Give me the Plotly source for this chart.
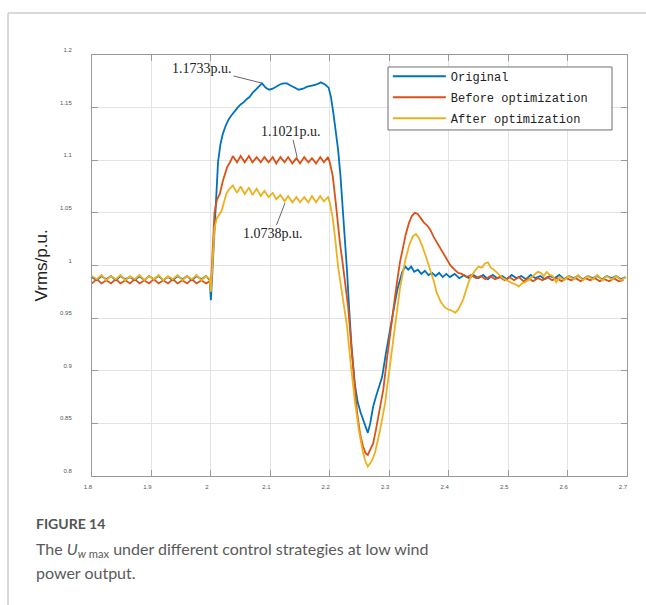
import plotly.graph_objects as go

# ---------------- data ----------------
T_PRE = [1.800, 1.808, 1.816, 1.824, 1.832, 1.840, 1.848, 1.856, 1.864, 1.872,
         1.880, 1.888, 1.896, 1.904, 1.912, 1.920, 1.928, 1.936, 1.944, 1.952,
         1.960, 1.968, 1.976, 1.984, 1.992, 1.998]

BLUE_PRE = [0.989, 0.986, 0.990, 0.987, 0.990, 0.986, 0.990, 0.987, 0.989, 0.986,
            0.990, 0.986, 0.990, 0.987, 0.990, 0.986, 0.989, 0.986, 0.990, 0.987,
            0.990, 0.986, 0.990, 0.987, 0.990, 0.986]
RED_PRE = [0.983, 0.987, 0.983, 0.986, 0.983, 0.987, 0.983, 0.986, 0.983, 0.987,
           0.983, 0.986, 0.983, 0.987, 0.983, 0.986, 0.983, 0.987, 0.983, 0.986,
           0.983, 0.987, 0.983, 0.986, 0.983, 0.985]
YELLOW_PRE = [0.990, 0.987, 0.991, 0.986, 0.990, 0.987, 0.991, 0.986, 0.990, 0.987,
              0.991, 0.986, 0.990, 0.987, 0.991, 0.986, 0.990, 0.987, 0.991, 0.986,
              0.990, 0.987, 0.991, 0.986, 0.990, 0.987]

# Original (blue)
BLUE_T = [2.000, 2.003, 2.006, 2.009, 2.012, 2.016, 2.020, 2.025, 2.030, 2.035,
          2.040, 2.045, 2.050, 2.055, 2.060, 2.065, 2.070, 2.075, 2.080, 2.086,
          2.092, 2.098, 2.104, 2.110, 2.116, 2.122, 2.128, 2.134, 2.140, 2.148,
          2.155, 2.162, 2.170, 2.178, 2.185, 2.192, 2.198, 2.202, 2.206, 2.210,
          2.214, 2.218, 2.221, 2.225, 2.229, 2.233, 2.237, 2.242, 2.247, 2.252,
          2.256, 2.260, 2.264, 2.268, 2.273, 2.278, 2.283, 2.288, 2.294, 2.301,
          2.308, 2.314, 2.318, 2.322, 2.327, 2.332, 2.337, 2.342, 2.348, 2.354,
          2.360, 2.366, 2.372, 2.378, 2.384, 2.390, 2.396, 2.402, 2.410, 2.418,
          2.426, 2.434, 2.442,
          2.450, 2.458, 2.466, 2.474, 2.482, 2.490, 2.498, 2.506, 2.514, 2.522,
          2.530, 2.538, 2.546, 2.554, 2.562, 2.570, 2.578, 2.586, 2.594, 2.602,
          2.610, 2.618, 2.626, 2.634, 2.642, 2.650, 2.658, 2.666, 2.674, 2.682,
          2.690, 2.698]
BLUE_V = [0.967, 1.000, 1.045, 1.075, 1.098, 1.115, 1.125, 1.133, 1.139, 1.143,
          1.147, 1.150, 1.153, 1.155, 1.158, 1.160, 1.164, 1.167, 1.170, 1.173,
          1.169, 1.167, 1.168, 1.170, 1.172, 1.173, 1.173, 1.171, 1.169, 1.167,
          1.168, 1.170, 1.171, 1.172, 1.174, 1.172, 1.169, 1.160, 1.145, 1.128,
          1.110, 1.085, 1.062, 1.030, 0.995, 0.955, 0.920, 0.888, 0.870, 0.860,
          0.853, 0.846, 0.841, 0.850, 0.866, 0.876, 0.884, 0.894, 0.915, 0.939,
          0.960, 0.978, 0.986, 0.994, 0.999, 0.996, 0.999, 0.994, 0.996, 0.992,
          0.995, 0.991, 0.993, 0.990, 0.993, 0.989, 0.992, 0.989, 0.992, 0.988,
          0.991, 0.988, 0.991,
          0.988, 0.991, 0.987, 0.991, 0.988, 0.990, 0.987, 0.991, 0.988, 0.990,
          0.987, 0.991, 0.988, 0.990, 0.987, 0.990, 0.988, 0.991, 0.987, 0.990,
          0.988, 0.990, 0.987, 0.990, 0.988, 0.990, 0.987, 0.990, 0.988, 0.990,
          0.987, 0.989]

# Before optimization (red)
RED_T = [2.000, 2.003, 2.006, 2.010, 2.015, 2.020, 2.027, 2.033, 2.037,
         2.044, 2.050, 2.057, 2.064, 2.070, 2.077, 2.084, 2.090, 2.097, 2.104,
         2.110, 2.117, 2.124, 2.130, 2.137, 2.144, 2.150, 2.157, 2.164, 2.170,
         2.177, 2.184, 2.190, 2.197,
         2.200, 2.205, 2.210, 2.214, 2.217, 2.221, 2.226, 2.231, 2.236, 2.241,
         2.246, 2.251, 2.256, 2.260, 2.264, 2.268, 2.273, 2.278, 2.283, 2.290,
         2.297, 2.305, 2.312, 2.318, 2.323, 2.328, 2.333, 2.338, 2.343, 2.348,
         2.353, 2.358, 2.364, 2.369, 2.375, 2.380, 2.385, 2.391, 2.397, 2.403,
         2.410, 2.416, 2.422,
         2.430, 2.438, 2.446, 2.454, 2.462, 2.470, 2.478, 2.486, 2.494, 2.502,
         2.510, 2.518, 2.526, 2.534, 2.542, 2.550, 2.558, 2.566, 2.574, 2.582,
         2.590, 2.598, 2.606, 2.614, 2.622, 2.630, 2.638, 2.646, 2.654, 2.662,
         2.670, 2.678, 2.686, 2.694]
RED_V = [0.980, 1.020, 1.050, 1.062, 1.068, 1.080, 1.093, 1.099, 1.104,
         1.098, 1.104, 1.098, 1.104, 1.098, 1.103, 1.098, 1.103, 1.098, 1.103,
         1.097, 1.103, 1.098, 1.103, 1.097, 1.102, 1.097, 1.103, 1.098, 1.102,
         1.097, 1.103, 1.098, 1.103,
         1.098, 1.085, 1.060, 1.035, 1.022, 1.005, 0.985, 0.960, 0.925, 0.890,
         0.860, 0.840, 0.828, 0.822, 0.820, 0.825, 0.831, 0.845, 0.860, 0.882,
         0.915, 0.951, 0.980, 1.003, 1.018, 1.030, 1.040, 1.047, 1.050, 1.049,
         1.045, 1.041, 1.038, 1.034, 1.027, 1.022, 1.018, 1.012, 1.005, 1.000,
         0.996, 0.993, 0.992,
         0.989, 0.991, 0.988, 0.990, 0.987, 0.990, 0.987, 0.989, 0.986, 0.989,
         0.986, 0.989, 0.985, 0.988, 0.985, 0.988, 0.986, 0.989, 0.986, 0.988,
         0.985, 0.988, 0.986, 0.988, 0.985, 0.988, 0.986, 0.988, 0.985, 0.987,
         0.985, 0.988, 0.985, 0.986]

# After optimization (yellow)
YELLOW_T = [2.000, 2.003, 2.006, 2.010, 2.014, 2.018, 2.022, 2.026, 2.030,
            2.037, 2.044, 2.050, 2.057, 2.064, 2.070, 2.077, 2.084, 2.090, 2.097,
            2.104, 2.110, 2.117, 2.124, 2.130, 2.137, 2.144, 2.150, 2.157, 2.164,
            2.170, 2.177, 2.184, 2.190, 2.197,
            2.200, 2.205, 2.209, 2.214, 2.219, 2.224, 2.229, 2.235, 2.242, 2.249,
            2.256, 2.260, 2.264, 2.268, 2.272, 2.276, 2.284, 2.293, 2.301, 2.310,
            2.318, 2.327, 2.334, 2.340, 2.345, 2.350, 2.356, 2.362, 2.369, 2.375,
            2.380, 2.387, 2.394, 2.400, 2.406, 2.411, 2.416, 2.420, 2.424, 2.430,
            2.436, 2.443, 2.450, 2.456, 2.461, 2.466, 2.471, 2.476, 2.482, 2.487,
            2.491, 2.497, 2.503, 2.508, 2.513, 2.518, 2.523, 2.528, 2.534, 2.540,
            2.545, 2.550, 2.555, 2.560, 2.565, 2.570, 2.575, 2.581, 2.587,
            2.594, 2.602, 2.610, 2.618, 2.626, 2.634, 2.642, 2.650, 2.658, 2.666,
            2.674, 2.682, 2.690, 2.698]
YELLOW_V = [0.975, 1.010, 1.035, 1.045, 1.048, 1.052, 1.060, 1.068, 1.072,
            1.076, 1.069, 1.075, 1.068, 1.074, 1.067, 1.073, 1.066, 1.071, 1.065,
            1.069, 1.063, 1.067, 1.061, 1.066, 1.060, 1.065, 1.060, 1.065, 1.060,
            1.066, 1.060, 1.066, 1.061, 1.065,
            1.060, 1.045, 1.026, 0.999, 0.980, 0.962, 0.942, 0.908, 0.872, 0.843,
            0.822, 0.814, 0.809, 0.812, 0.816, 0.822, 0.842, 0.869, 0.905, 0.945,
            0.978, 1.005, 1.020, 1.028, 1.030, 1.026, 1.018, 1.008, 0.996, 0.985,
            0.974, 0.965, 0.960, 0.958, 0.957, 0.955, 0.958, 0.962, 0.967, 0.978,
            0.988, 0.994, 0.999, 0.998, 1.002, 1.003, 0.998, 0.996, 0.993, 0.990,
            0.988, 0.986, 0.984, 0.983, 0.982, 0.980, 0.983, 0.984, 0.986, 0.989,
            0.991, 0.994, 0.993, 0.990, 0.994, 0.991, 0.990, 0.984, 0.989,
            0.986, 0.990, 0.987, 0.991, 0.986, 0.990, 0.987, 0.991, 0.986, 0.990,
            0.987, 0.990, 0.986, 0.989]

SERIES_NAMES = ["Original", "Before optimization", "After optimization"]
SERIES_COLORS = ["#0072BD", "#D95319", "#EDB120"]

PEAK_LABELS = ["1.1733p.u.", "1.1021p.u.", "1.0738p.u."]
PEAK_POINTS = [(2.086, 1.1733), (2.145, 1.1030), (2.1247, 1.0594)]

X_TICKS = [1.8, 1.9, 2.0, 2.1, 2.2, 2.3, 2.4, 2.5, 2.6, 2.7]
Y_TICKS = [0.8, 0.85, 0.9, 0.95, 1.0, 1.05, 1.1, 1.15, 1.2]

assert len(BLUE_T) == len(BLUE_V)
assert len(RED_T) == len(RED_V)
assert len(YELLOW_T) == len(YELLOW_V)
assert len(T_PRE) == len(BLUE_PRE) == len(RED_PRE) == len(YELLOW_PRE)

# ---------------- figure ----------------
fig = go.Figure()
for i, (name, color, t, v) in enumerate([
    (SERIES_NAMES[0], SERIES_COLORS[0], T_PRE + BLUE_T, BLUE_PRE + BLUE_V),
    (SERIES_NAMES[1], SERIES_COLORS[1], T_PRE + RED_T, RED_PRE + RED_V),
    (SERIES_NAMES[2], SERIES_COLORS[2], T_PRE + YELLOW_T, YELLOW_PRE + YELLOW_V),
]):
    fig.add_trace(go.Scatter(x=t, y=v, mode="lines", name=name,
                             legendgroup=f"g{i}",
                             line=dict(color=color, width=1.8)))

axis_common = dict(
    showgrid=True, gridcolor="#e3e3e3", gridwidth=1,
    showline=True, linecolor="#9a9a9a", linewidth=1, mirror="ticks",
    ticks="inside", ticklen=6, tickcolor="#9a9a9a", tickwidth=1,
    zeroline=False,
    tickfont=dict(family="Liberation Sans", size=6, color="#555555"),
)

fig.update_xaxes(range=[1.8, 2.7], tickvals=X_TICKS, ticklabelshift=-4,
                 ticklabelstandoff=5, **axis_common)
fig.update_yaxes(range=[0.8, 1.2], tickvals=Y_TICKS, ticklabelshift=-5,
                 ticklabelstandoff=18, **axis_common)

annotations = []
offsets = [(-60, -15), (-6, -26), (-12, 31)]
for label, (px, py), (ax, ay) in zip(PEAK_LABELS, PEAK_POINTS, offsets):
    annotations.append(dict(
        x=px, y=py, xref="x", yref="y", text=label, showarrow=True,
        arrowhead=0, arrowwidth=1, arrowcolor="#666666", ax=ax, ay=ay,
        font=dict(family="Liberation Serif", size=14, color="#222222"),
        standoff=0, startstandoff=0,
    ))

# y-axis title
annotations.append(dict(
    x=-0.0935, y=0.50, xref="paper", yref="paper", text="Vrms/p.u.",
    xanchor="center", yanchor="middle",
    showarrow=False, textangle=-90,
    font=dict(family="Liberation Sans", size=17, color="#222222"),
))

# caption
annotations.append(dict(
    x=-0.1084, y=-0.114, xref="paper", yref="paper", xanchor="left",
    yanchor="middle", text="<b>FIGURE 14</b>", showarrow=False,
    font=dict(family="Lato", size=14, color="#555555"),
))
annotations.append(dict(
    x=-0.1084, y=-0.1734, xref="paper", yref="paper", xanchor="left",
    yanchor="middle",
    text="The <i>U</i><sub><i>w</i> max</sub> under different control strategies at low wind",
    showarrow=False,
    font=dict(family="Lato", size=16, color="#5a5a5a"),
))
annotations.append(dict(
    x=-0.1084, y=-0.2304, xref="paper", yref="paper", xanchor="left",
    yanchor="middle", text="power output.", showarrow=False,
    font=dict(family="Lato", size=16, color="#5a5a5a"),
))

shapes = [
    # card border (top and left)
    dict(type="line", xref="paper", yref="paper", x0=-0.157, x1=1.04,
         y0=1.0998, y1=1.0998, line=dict(color="#cccccc", width=1.5)),
    dict(type="line", xref="paper", yref="paper", x0=-0.157, x1=-0.157,
         y0=1.0998, y1=-0.31, line=dict(color="#cccccc", width=1.5)),
    # legend frame
    dict(type="rect", xref="paper", yref="paper", x0=0.5533, x1=0.972,
         y0=0.8219, y1=0.9715, layer="above",
         fillcolor="white", line=dict(color="#6f6f6f", width=1)),
]

fig.update_layout(
    width=646, height=605,
    margin=dict(l=92, r=19, t=55, b=129),
    paper_bgcolor="white", plot_bgcolor="white",
    showlegend=True,
    legend=dict(x=0.553, y=0.984, xanchor="left", yanchor="top",
                borderwidth=0, bgcolor="rgba(0,0,0,0)",
                font=dict(family="Liberation Mono", size=12, color="#222222"),
                tracegroupgap=2, itemwidth=53),
    annotations=annotations,
    shapes=shapes,
)

fig.write_html("out.html",
               config={"displayModeBar": False},
               post_script="document.body.style.margin='0';document.body.style.overflow='hidden';")
